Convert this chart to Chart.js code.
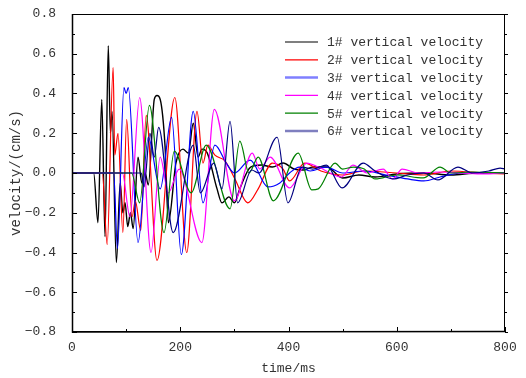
<!DOCTYPE html>
<html>
<head>
<meta charset="utf-8">
<script src="https://cdn.jsdelivr.net/npm/chart.js"></script>
<style>
  body { margin: 0; background: #fff; }
  #wrap { width: 526px; height: 378px; }
</style>
</head>
<body>
<div id="wrap"><canvas id="chart" width="526" height="378"></canvas></div>
<script>
// velocity records (time in ms, velocity in cm/s)
const labels = ['1# vertical velocity', '2# vertical velocity', '3# vertical velocity',
                '4# vertical velocity', '5# vertical velocity', '6# vertical velocity'];

const time1 = [0, 40, 48, 55, 61, 67, 71, 74, 82, 89, 94, 98, 103, 108, 113, 122, 129, 135, 141, 152, 157, 163, 172, 178, 192, 205, 215, 224, 233, 240, 250, 268, 277, 290, 300, 310, 330, 350, 370, 390, 410, 427, 445, 471, 500, 530, 560, 600, 650, 700, 750, 800];
const vel1  = [0, 0, -0.25, 0.37, -0.32, 0.64, 0.2, 0.31, -0.45, -0.05, -0.2, -0.15, -0.27, -0.2, -0.28, 0.08, -0.05, 0.0, -0.06, 0.37, 0.39, 0.37, 0.13, -0.25, 0.05, 0.12, 0.1, 0.25, 0.08, 0.12, 0.1, -0.08, -0.15, -0.12, -0.15, -0.08, 0.03, 0.04, 0.03, 0.05, 0.02, 0.015, 0.03, 0.03, -0.025, -0.01, -0.02, -0.005, 0.0, -0.01, 0.0, 0.0];

const time2 = [0, 56, 65, 76, 79, 85, 94, 101, 111, 117, 127, 137, 157, 190, 212, 231, 242, 251, 264, 283, 301, 325, 344, 370, 390, 402, 430, 460, 500, 540, 600, 650, 700, 760, 800];
const vel2  = [0, 0, -0.36, 0.53, 0.09, 0.2, -0.3, 0.27, -0.22, -0.14, -0.29, 0.29, -0.44, 0.38, -0.4, 0.31, 0.05, 0.14, 0.09, 0.06, -0.03, -0.15, -0.08, 0.05, 0.02, -0.04, 0.05, 0.01, -0.01, 0.01, 0.0, -0.01, 0.01, 0.0, -0.005];

const time3 = [0, 77, 84, 96, 100, 104, 122, 141, 163, 184, 202, 224, 242, 264, 285, 300, 329, 362, 384, 402, 420, 440, 470, 500, 540, 580, 620, 650, 680, 720, 760, 800];
const vel3  = [0, 0, -0.38, 0.43, 0.4, 0.43, -0.35, 0.18, -0.08, 0.28, -0.41, 0.31, -0.15, 0.14, 0.05, 0.0, 0.065, -0.07, -0.05, 0.0, 0.03, 0.01, 0.03, 0.0, 0.01, -0.01, -0.03, -0.04, -0.02, 0.0, 0.0, 0.0];

const time4 = [0, 93, 107, 125, 146, 163, 178, 198, 240, 263, 300, 333, 347, 366, 402, 434, 455, 498, 519, 545, 575, 592, 610, 640, 680, 720, 760, 800];
const vel4  = [0, 0, -0.22, 0.38, -0.4, 0.08, -0.1, 0.02, -0.35, 0.32, -0.14, 0.1, 0.02, 0.08, -0.075, 0.05, 0.03, -0.02, 0.04, 0.0, 0.02, -0.03, 0.02, 0.0, 0.005, 0.0, -0.005, 0.0];

const time5 = [0, 110, 125, 143, 170, 189, 220, 248, 292, 310, 327, 344, 372, 418, 443, 455, 486, 500, 520, 540, 560, 600, 649, 680, 700, 740, 800];
const vel5  = [0, 0, -0.15, 0.34, -0.3, 0.11, -0.1, 0.14, -0.18, 0.16, 0.0, 0.08, -0.14, 0.1, -0.085, -0.08, 0.05, 0.02, 0.03, 0.02, -0.03, -0.01, -0.025, 0.03, 0.0, 0.005, 0.0];

const time6 = [0, 128, 133, 144, 152, 160, 187, 224, 237, 262, 277, 292, 306, 332, 345, 379, 399, 425, 445, 470, 499, 538, 560, 593, 620, 650, 676, 713, 740, 770, 791, 800];
const vel6  = [0, 0, -0.07, 0.2, 0.08, 0.23, -0.3, 0.14, -0.1, 0.05, -0.08, 0.26, -0.15, 0.015, 0.0, 0.18, -0.15, 0.03, 0.02, 0.04, -0.075, 0.05, 0.01, -0.03, -0.01, 0.0, -0.035, 0.03, 0.0, 0.01, 0.025, 0.02];

const colors = ['#000000', '#ff0000', '#0000ff', '#ff00ff', '#008000', '#000080'];
const legendColors = ['#000000', '#ff0000', '#7f7fff', '#ff00ff', '#008000', '#7f7fbf'];

const xTicks = [0, 200, 400, 600, 800];
const yTicks = [-0.8, -0.6, -0.4, -0.2, 0, 0.2, 0.4, 0.6, 0.8];
const yTickLabels = ['\u22120.8', '\u22120.6', '\u22120.4', '\u22120.2', '0.0', '0.2', '0.4', '0.6', '0.8'];

const FONT = '"Liberation Mono", monospace';
const TEXT = '#333333';

const series = [[time1, vel1], [time2, vel2], [time3, vel3], [time4, vel4], [time5, vel5], [time6, vel6]];

const datasets = series.map(([t, v], i) => ({
  label: labels[i],
  data: t.map((tx, k) => ({ x: tx, y: v[k] })),
  borderColor: colors[i],
  borderWidth: i === 0 ? 1.4 : 1.2,
  pointRadius: 0,
  cubicInterpolationMode: 'monotone',
  fill: false,
  order: 5 - i
}));

// frame, inward ticks and in-plot legend
const framePlugin = {
  id: 'framePlugin',
  afterDatasetsDraw(chart) {
    const { ctx, chartArea: a, scales: { x, y } } = chart;
    ctx.save();
    ctx.strokeStyle = '#000';
    ctx.lineWidth = 1;
    ctx.strokeRect(a.left + 0.5, a.top + 0.5, a.right - a.left - 1, a.bottom - a.top - 1);
    ctx.lineWidth = 1.5;
    ctx.beginPath();
    ctx.moveTo(a.left + 0.5, a.top); ctx.lineTo(a.left + 0.5, a.bottom);
    ctx.lineTo(a.right, a.bottom - 0.5);
    ctx.stroke();
    ctx.lineWidth = 1;
    ctx.beginPath();
    for (let v = 0; v <= 800; v += 100) {
      const px = Math.round(x.getPixelForValue(v)) + 0.5;
      const len = v % 200 === 0 ? 5 : 3;
      ctx.moveTo(px, a.bottom); ctx.lineTo(px, a.bottom - len);
    }
    for (let k = -8; k <= 8; k++) {
      const py = Math.round(y.getPixelForValue(k / 10)) + 0.5;
      const len = k % 2 === 0 ? 5 : 3;
      ctx.moveTo(a.left, py); ctx.lineTo(a.left + len, py);
      ctx.moveTo(a.right, py); ctx.lineTo(a.right + (k % 2 === 0 ? 3 : 2), py);
    }
    ctx.stroke();

    // legend
    ctx.font = '13px ' + FONT;
    ctx.textBaseline = 'middle';
    ctx.fillStyle = TEXT;
    labels.forEach((lab, i) => {
      const ly = 42 + i * 17.8;
      ctx.strokeStyle = legendColors[i];
      ctx.lineWidth = (i === 2 || i === 5) ? 2.5 : 1.2;
      ctx.beginPath();
      ctx.moveTo(285, ly); ctx.lineTo(318, ly);
      ctx.stroke();
      ctx.fillText(lab, 327, ly + 1);
    });
    ctx.restore();
  }
};

new Chart(document.getElementById('chart'), {
  type: 'line',
  data: { datasets },
  options: {
    responsive: false,
    animation: false,
    layout: { padding: { top: 14, right: 21, left: 0, bottom: 0 } },
    plugins: { legend: { display: false }, tooltip: { enabled: false } },
    scales: {
      x: {
        type: 'linear',
        min: 0, max: 800,
        grid: { display: false, drawTicks: false },
        border: { display: false },
        afterBuildTicks: s => { s.ticks = xTicks.map(v => ({ value: v })); },
        afterFit: s => { s.height = 46; s.paddingLeft = 0; s.paddingRight = 0; },
        ticks: { color: TEXT, font: { family: FONT, size: 13 }, padding: 8, maxRotation: 0 },
        title: { display: true, text: 'time/ms', color: TEXT, font: { family: FONT, size: 13 }, padding: { top: 4, bottom: 2 } }
      },
      y: {
        type: 'linear',
        min: -0.8, max: 0.8,
        grid: { display: false, drawTicks: false },
        border: { display: false },
        afterBuildTicks: s => { s.ticks = yTicks.map(v => ({ value: v })); },
        afterFit: s => { s.width = 72; s.paddingTop = 0; s.paddingBottom = 0; },
        ticks: {
          color: TEXT, font: { family: FONT, size: 13 }, padding: 16,
          callback: v => yTickLabels[yTicks.findIndex(t => Math.abs(t - v) < 1e-9)]
        },
        title: { display: true, text: 'velocity/(cm/s)', color: TEXT, font: { family: FONT, size: 14 }, padding: { top: 8, bottom: 0 } }
      }
    }
  },
  plugins: [framePlugin]
});
</script>
</body>
</html>
